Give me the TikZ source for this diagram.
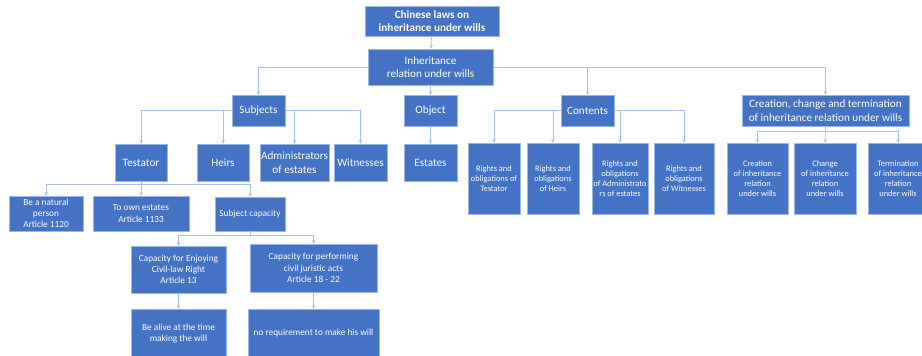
\documentclass[tikz,border=0pt]{standalone}
\usepackage{fontspec}
\setmainfont{Carlito}
\definecolor{boxblue}{HTML}{4472C4}
\definecolor{boxline}{HTML}{9DB6E2}
\definecolor{linkblue}{HTML}{A6BEE8}
\tikzset{%
  link/.style = {-stealth,draw=linkblue,line width=0.7pt},
  b/.style = {rectangle,draw=boxline,fill=boxblue,line width=0.5pt,
        text=white,align=center,inner sep=1pt},
  big/.style = {b,font=\fontsize{11.2}{13.4}\selectfont},
  mid/.style = {b,font=\fontsize{9.3}{11.2}\selectfont},
  small/.style = {b,font=\fontsize{8.4}{10.1}\selectfont}
}

\begin{document}
\begin{tikzpicture}[x=1pt,y=-1pt]
   \useasboundingbox (0,0) rectangle (922,356);
   % top levels
   \node[big,minimum width=134pt,minimum height=30pt,font=\bfseries\fontsize{11.2}{13.4}\selectfont]
      (laws) at (432,21) {Chinese laws on\\inheritance under wills};
   \node[big,minimum width=125pt,minimum height=36pt] (relation) at (430.5,67)
      {Inheritance\\relation under wills};
   \node[big,minimum width=53pt,minimum height=31pt] (subjects) at (258.5,110.5) {Subjects};
   \node[big,minimum width=53pt,minimum height=31pt] (object) at (430.5,110.5) {Object};
   \node[big,minimum width=53pt,minimum height=31pt] (contents) at (587.5,110.5) {Contents};
   \node[big,minimum width=167pt,minimum height=31pt] (change) at (825.5,110.5)
      {Creation, change and termination\\of inheritance relation under wills};
   % subjects and object
   \node[big,minimum width=52pt,minimum height=37pt] (testator) at (141,162.5) {Testator};
   \node[big,minimum width=52pt,minimum height=37pt] (heirs) at (223,162.5) {Heirs};
   \node[big,minimum width=65pt,minimum height=37pt] (admins) at (294.5,162.5)
      {Administrators\\of estates};
   \node[big,minimum width=53pt,minimum height=37pt] (witnesses) at (360.5,162.5) {Witnesses};
   \node[big,minimum width=53pt,minimum height=37pt] (estates) at (430.5,162.5) {Estates};
   % contents
   \node[small,minimum width=52pt,minimum height=71pt] (r-testator) at (494,178.5)
      {Rights and\\obligations of\\Testator};
   \node[small,minimum width=52pt,minimum height=71pt] (r-heirs) at (553,178.5)
      {Rights and\\obligations\\of Heirs};
   \node[small,minimum width=56pt,minimum height=71pt] (r-admins) at (620,178.5)
      {Rights and\\obligations\\of Administrato\\rs of estates};
   \node[small,minimum width=60pt,minimum height=71pt] (r-witnesses) at (684,178.5)
      {Rights and\\obligations\\of Witnesses};
   % creation, change, termination
   \node[small,minimum width=61pt,minimum height=71pt] (creation) at (757.5,178.5)
      {Creation\\of inheritance\\relation\\under wills};
   \node[small,minimum width=62pt,minimum height=71pt] (changing) at (825,178.5)
      {Change\\of inheritance\\relation\\under wills};
   \node[small,minimum width=60pt,minimum height=71pt] (termination) at (898,178.5)
      {Termination\\of inheritance\\relation\\under wills};
   % testator
   \node[mid,minimum width=74pt,minimum height=35pt] (natural) at (46,213.5)
      {Be a natural\\person\\Article 1120};
   \node[mid,minimum width=96pt,minimum height=35pt] (own) at (141,213.5)
      {To own estates\\Article 1133};
   \node[mid,minimum width=70pt,minimum height=34pt] (capacity) at (250,214) {Subject capacity};
   \node[mid,minimum width=95pt,minimum height=47pt] (enjoying) at (178.5,269.5)
      {Capacity for Enjoying\\Civil-law Right\\Article 13};
   \node[mid,minimum width=127pt,minimum height=48pt] (performing) at (313.5,268)
      {Capacity for performing\\civil juristic acts\\Article 18 - 22};
   \node[mid,minimum width=95pt,minimum height=49pt] (alive) at (178.5,333.5)
      {Be alive at the time\\making the will};
   \node[mid,minimum width=131pt,minimum height=49pt] (norequire) at (313.5,333.5)
      {no requirement to make his will};
   \coordinate (change-bar) at (825.5,131);
   \coordinate (testator-bar) at (141,184);
   \coordinate (capacity-bar) at (250,235);
   % connectors
   \draw[link] (laws) -- (relation);
   \draw[link] (relation.west) -| (subjects.north);
   \draw[link] (relation) -- (object);
   \draw[link] (relation.east) -| (contents.north);
   \draw[link] (relation.east) -| (change.north);
   \draw[link] (subjects.west) -| (testator.north);
   \draw[link] (subjects.west) -| (heirs.north);
   \draw[link] (subjects.east) -| (admins.north);
   \draw[link] (subjects.east) -| (witnesses.north);
   \draw[link] (object) -- (estates);
   \draw[link] (contents.west) -| (r-testator.north);
   \draw[link] (contents.west) -| (r-heirs.north);
   \draw[link] (contents.east) -| (r-admins.north);
   \draw[link] (contents.east) -| (r-witnesses.north);
   \draw[link] (change.south) -- (change-bar) -| (creation.north);
   \draw[link] (change.south) -- (changing.north);
   \draw[link] (change-bar) -| (termination.north);
   \draw[link] (testator.south) -- (testator-bar) -| (natural.north);
   \draw[link] (testator) -- (own);
   \draw[link] (testator-bar) -| (capacity.north);
   \draw[link] (capacity.south) -- (capacity-bar) -| (enjoying.north);
   \draw[link] (capacity-bar) -| (performing.north);
   \draw[link] (enjoying) -- (alive);
   \draw[link] (performing) -- (norequire);
\end{tikzpicture}
\end{document}
